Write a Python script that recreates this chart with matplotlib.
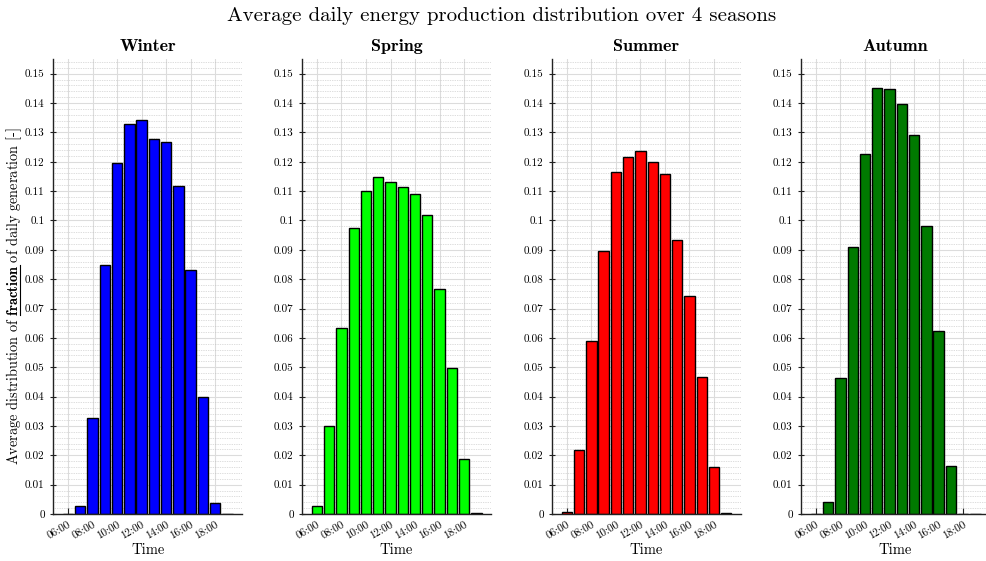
import matplotlib
matplotlib.use("Agg")
import matplotlib.pyplot as plt
from matplotlib.ticker import MultipleLocator, FuncFormatter
from matplotlib.lines import Line2D

plt.rcParams["font.family"] = "cmr10"
plt.rcParams["mathtext.fontset"] = "cm"
plt.rcParams["axes.formatter.use_mathtext"] = True

hours = [6, 7, 8, 9, 10, 11, 12, 13, 14, 15, 16, 17, 18, 19]
tick_hours = [6, 8, 10, 12, 14, 16, 18]
tick_labels = ["06:00", "08:00", "10:00", "12:00", "14:00", "16:00", "18:00"]

seasons = ["Winter", "Spring", "Summer", "Autumn"]
colors = ["#0000ff", "#00ff00", "#ff0000", "#007a00"]

winter = [0.0, 0.0027, 0.0327, 0.0847, 0.1197, 0.1327, 0.1342, 0.1277,
          0.1266, 0.1119, 0.0832, 0.0398, 0.0038, 0.0]
spring = [0.0026, 0.0300, 0.0633, 0.0976, 0.1100, 0.1149, 0.1131, 0.1115,
          0.1091, 0.1017, 0.0768, 0.0498, 0.0187, 0.0003]
summer = [0.0008, 0.0219, 0.0589, 0.0897, 0.1166, 0.1216, 0.1237, 0.1199,
          0.1158, 0.0932, 0.0741, 0.0467, 0.0160, 0.0003]
autumn = [0.0, 0.0042, 0.0463, 0.0908, 0.1227, 0.1450, 0.1448, 0.1397,
          0.1290, 0.0982, 0.0625, 0.0164, 0.0, 0.0]
values = [winter, spring, summer, autumn]

fig = plt.figure(figsize=(9.86, 5.61), dpi=100)
lefts = [0.0538, 0.3063, 0.5598, 0.8124]
axes = [fig.add_axes([l, 0.0838, 0.1917, 0.8110]) for l in lefts]

for ax, name, col, vals in zip(axes, seasons, colors, values):
    ax.set_axisbelow(True)
    ax.bar(hours, vals, width=0.85, color=col, edgecolor="black", linewidth=1.0)
    ax.set_xlim(4.78, 20.2)
    ax.set_ylim(0, 0.155)
    ax.yaxis.set_major_locator(MultipleLocator(0.01))
    ax.yaxis.set_minor_locator(MultipleLocator(0.002))
    ax.yaxis.set_major_formatter(FuncFormatter(lambda v, p: "%g" % round(v, 3)))
    ax.set_xticks(tick_hours)
    ax.set_xticklabels(tick_labels, rotation=30, ha="right", rotation_mode="anchor")
    ax.grid(True, which="major", color="#dcdcdc", linewidth=0.8, linestyle="-")
    ax.grid(True, which="minor", axis="y", color="#bdbdbd", linewidth=0.5,
            linestyle=(0, (1, 1.5)))
    for side in ("top", "right"):
        ax.spines[side].set_visible(False)
    for side in ("left", "bottom"):
        ax.spines[side].set_color("#222222")
        ax.spines[side].set_linewidth(1.0)
    ax.tick_params(axis="y", which="major", direction="inout", length=5,
                   width=0.8, labelsize=8, color="#222222")
    ax.tick_params(axis="y", which="minor", length=0)
    ax.tick_params(axis="x", which="major", direction="in", length=4,
                   width=0.8, labelsize=8, pad=4, color="#222222")
    ax.set_title(name, fontsize=13, family="cmb10", pad=6)
    ax.set_xlabel("Time", fontsize=10.5, labelpad=2)

ylab_text = r"Average distribution of $\mathbf{fraction}$ of daily generation [-]"
ylab = axes[0].set_ylabel(ylab_text, fontsize=10.3)
axes[0].yaxis.set_label_coords(-0.152, 0.478)

fig.suptitle("Average daily energy production distribution over 4 seasons",
             fontsize=15, x=0.5085, y=0.988)

# underline the bold word in the y label
fig.canvas.draw()
renderer = fig.canvas.get_renderer()
prop = ylab.get_fontproperties()
bb = ylab.get_window_extent(renderer)
w_full, h_full, d_full = renderer.get_text_width_height_descent(ylab_text, prop, ismath=True)
_, _, d_lp = renderer.get_text_width_height_descent("lp", prop, ismath=False)
w_pre, _, _ = renderer.get_text_width_height_descent(
    r"Average distribution of $\mathbf{fraction}$", prop, ismath=True)
w_word, _, _ = renderer.get_text_width_height_descent(
    r"$\mathbf{fraction}$", prop, ismath=True)
descent = max(d_full, d_lp)
y_base = bb.y0 + (bb.height - w_full) / 2
ystart = y_base + (w_pre - w_word)
yend = y_base + w_pre
xline = bb.x1 - descent + 1.5
inv = fig.transFigure.inverted()
(fx, fy0), (_, fy1) = inv.transform([(xline, ystart), (xline, yend)])
fig.add_artist(Line2D([fx, fx], [fy0, fy1], transform=fig.transFigure,
                      color="black", linewidth=0.8))

fig.savefig("out.png", dpi=100)
